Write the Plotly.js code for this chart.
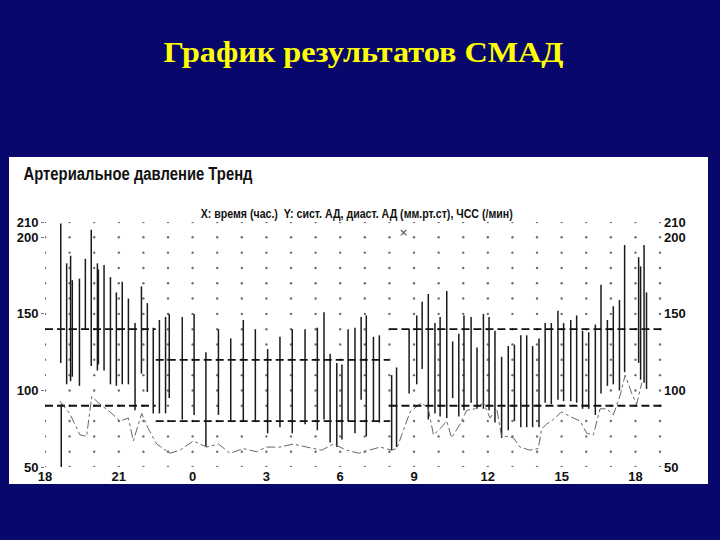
<!DOCTYPE html>
<html>
<head>
<meta charset="utf-8">
<script src="https://cdn.plot.ly/plotly-3.0.1.min.js"></script>
<style>
html,body{margin:0;padding:0;background:#07076c;}
#chart{width:720px;height:540px;}
</style>
</head>
<body>
<div id="chart"></div>
<script>
// ---- data: measurement time (hours from 0:00 of day 1), systolic, diastolic ----
const times = [18.64,18.66,18.88,19.04,19.11,19.40,19.64,19.88,20.13,20.17,20.40,20.66,20.90,21.14,21.39,21.66,21.92,22.16,22.40,22.65,22.90,23.05,23.58,24.06,
  24.54,25.05,25.55,26.06,26.55,27.05,27.55,28.05,28.57,29.07,29.34,29.59,29.86,30.07,30.32,30.60,30.85,31.06,31.35,31.59,32.09,32.29,
  32.80,33.11,33.33,33.58,33.85,34.06,34.33,34.57,34.82,35.03,35.32,35.56,35.82,36.05,36.29,36.56,36.83,37.08,37.34,37.58,37.82,38.08,
  38.33,38.58,38.85,39.08,39.37,39.61,39.85,40.10,40.37,40.60,40.86,41.10,41.35,41.56,42.13,42.21,42.35,42.45];
const systolic = [209,91,183,188,172,173,186,205,183,179,182,174,164,171,160,144,168,157,141,146,148,150,148,150,
  125,140,134,146,140,127,135,140,140,141,151,124,118,117,140,141,148,149,135,136,110,115,
  140,149,158,163,144,148,165,132,137,149,148,128,150,148,139,122,129,130,136,136,129,134,
  144,144,152,144,146,149,139,138,143,169,146,155,159,195,187,181,195,164];
const diastolic = [118,50,104,106,109,103,140,116,113,117,113,104,103,104,104,87,111,99,85,85,85,95,81,84,
  63,84,80,80,80,72,76,72,78,74,81,66,63,68,80,72,94,70,80,79,61,63,
  98,104,114,81,85,83,82,95,83,87,92,88,88,87,79,69,74,80,76,76,76,76,
  92,91,94,93,93,92,88,88,84,98,103,104,100,112,118,107,105,101];
// heart rate (ЧСС)
const hrTimes = [18.61,19.0,19.42,19.69,19.90,20.24,20.64,21.05,21.39,21.59,21.93,22.20,22.54,23.08,23.49,24.03,24.57,25.05,25.52,26.06,26.60,27.01,27.55,28.09,28.64,29.25,29.72,30.26,30.74,
  31.21,31.62,32.09,32.30,32.50,32.84,33.31,33.58,33.79,34.06,34.33,34.53,34.87,35.14,35.48,35.82,36.09,36.36,36.56,36.83,37.04,37.31,37.71,38.05,38.19,38.39,38.66,39.00,39.34,39.75,40.02,40.29,40.56,40.83,41.10,41.38,41.58,41.85,42.05,42.26];
const hrValues = [93,85,71,70,96,91,86,80,82,67,85,75,65,59,61,67,63,65,59,62,60,63,63,65,63,61,65,61,59,
  61,63,61,62,71,86,92,88,71,75,80,69,78,87,88,92,82,88,70,70,69,63,61,62,75,78,81,86,83,80,72,71,88,88,84,97,110,98,91,105];
// target thresholds (day / night)
const limitStart = [18, 22.5, 32];
const limitEnd   = [22.5, 32, 43.12];
const sysLimit   = [140, 120, 140];
const diaLimit   = [90, 80, 90];
// axes
const xTickVals = [18,21,24,27,30,33,36,39,42];
const xTickText = ['18','21','0','3','6','9','12','15','18'];
const yTickVals = [50,100,150,200,210];
const yTickText = ['50','100','150','200','210'];
const gridHours = [18,19,20,21,22,23,24,25,26,27,28,29,30,31,32,33,34,35,36,37,38,39,40,41,42,43];
const gridLevels = [50,60,70,80,90,100,110,120,130,140,150,160,170,180,190,200,210];

const traces = [];
// dotted grid
const gx = [], gy = [];
gridHours.forEach(h => gridLevels.forEach(v => { gx.push(h); gy.push(v); }));
traces.push({x: gx, y: gy, mode: 'markers', type: 'scatter', hoverinfo: 'skip',
  marker: {size: 2.4, color: '#6e6e6e'}, showlegend: false});
// BP bars
const bx = [], by = [];
times.forEach((t, i) => { bx.push(t, t, null); by.push(diastolic[i], systolic[i], null); });
traces.push({x: bx, y: by, mode: 'lines', type: 'scatter', line: {color: '#1a1a1a', width: 1.5}, showlegend: false});
// heart rate
traces.push({x: hrTimes, y: hrValues, mode: 'lines', type: 'scatter',
  line: {color: '#666', width: 1, dash: 'dashdot'}, showlegend: false});
// limits
const lx = [], lsy = [], ldy = [];
limitStart.forEach((s, i) => {
  lx.push(s, limitEnd[i], null);
  lsy.push(sysLimit[i], sysLimit[i], null);
  ldy.push(diaLimit[i], diaLimit[i], null);
});
traces.push({x: lx, y: lsy, mode: 'lines', type: 'scatter', line: {color: '#111', width: 1.8, dash: '8px,4px'}, showlegend: false});
traces.push({x: lx, y: ldy, mode: 'lines', type: 'scatter', line: {color: '#111', width: 1.8, dash: '8px,4px'}, showlegend: false});
// right axis
traces.push({x: [18], y: [50], yaxis: 'y2', mode: 'markers', marker: {opacity: 0}, hoverinfo: 'skip', showlegend: false});

const sans = '"Liberation Sans", Arial, sans-serif';
const L = 45, R = 663, T = 222, B = 467;
const px = X => (X - L) / (R - L);
const py = Y => (B - Y) / (B - T);
const tickFont = {family: sans, size: 13, color: '#111', weight: 'bold'};

const layout = {
  width: 720, height: 540,
  margin: {l: L, r: 720 - R, t: T, b: 540 - B},
  paper_bgcolor: '#07076c',
  plot_bgcolor: '#ffffff',
  showlegend: false,
  xaxis: {range: [18, 43.12], showgrid: false, zeroline: false, showline: false,
    tickvals: xTickVals, ticktext: xTickText, ticks: '', ticklen: 0, tickfont: tickFont},
  yaxis: {range: [50, 210], showgrid: false, zeroline: false, showline: false,
    tickvals: yTickVals, ticktext: yTickText, ticks: 'outside', ticklen: 3, tickcolor: '#777', tickfont: tickFont},
  yaxis2: {range: [50, 210], overlaying: 'y', side: 'right', showgrid: false, zeroline: false, showline: false,
    tickvals: yTickVals, ticktext: yTickText, ticks: '', tickfont: tickFont},
  shapes: [
    {type: 'rect', xref: 'paper', yref: 'paper', x0: px(9), x1: px(708), y0: py(484), y1: py(157),
      fillcolor: '#ffffff', line: {width: 0}, layer: 'below'}
  ],
  annotations: [
    {text: 'График результатов СМАД', xref: 'paper', yref: 'paper', x: px(363), y: py(52),
      showarrow: false, xanchor: 'center', yanchor: 'middle',
      font: {family: '"Liberation Serif", "Times New Roman", serif', size: 30, color: '#ffff00', weight: 'bold'}},
    {text: 'Артериальное давление Тренд', xref: 'paper', yref: 'paper', x: px(138.5), y: py(174),
      showarrow: false, xanchor: 'center', yanchor: 'middle',
      font: {family: sans, size: 18, color: '#111', weight: 'bold'}},
    {text: 'X: время (час.)  Y: сист. АД, диаст. АД (мм.рт.ст), ЧСС (/мин)', xref: 'paper', yref: 'paper',
      x: px(356), y: py(214), showarrow: false, xanchor: 'center', yanchor: 'middle',
      font: {family: sans, size: 12, color: '#111', weight: 'bold'}},
    {text: '×', xref: 'paper', yref: 'paper', x: px(403), y: py(224), showarrow: false,
      font: {family: 'DejaVu Sans', size: 11, color: '#444'}}
  ]
};

// widths of the texts as set on the original slide
const textWidths = [400, 229, 312, null];

Plotly.newPlot('chart', traces, layout, {displayModeBar: false, staticPlot: true}).then(gd => {
  const nodes = gd.querySelectorAll('.annotation-text');
  nodes.forEach((n, i) => {
    if (textWidths[i]) {
      n.setAttribute('textLength', textWidths[i]);
      n.setAttribute('lengthAdjust', 'spacingAndGlyphs');
    }
  });
});
</script>
</body>
</html>
